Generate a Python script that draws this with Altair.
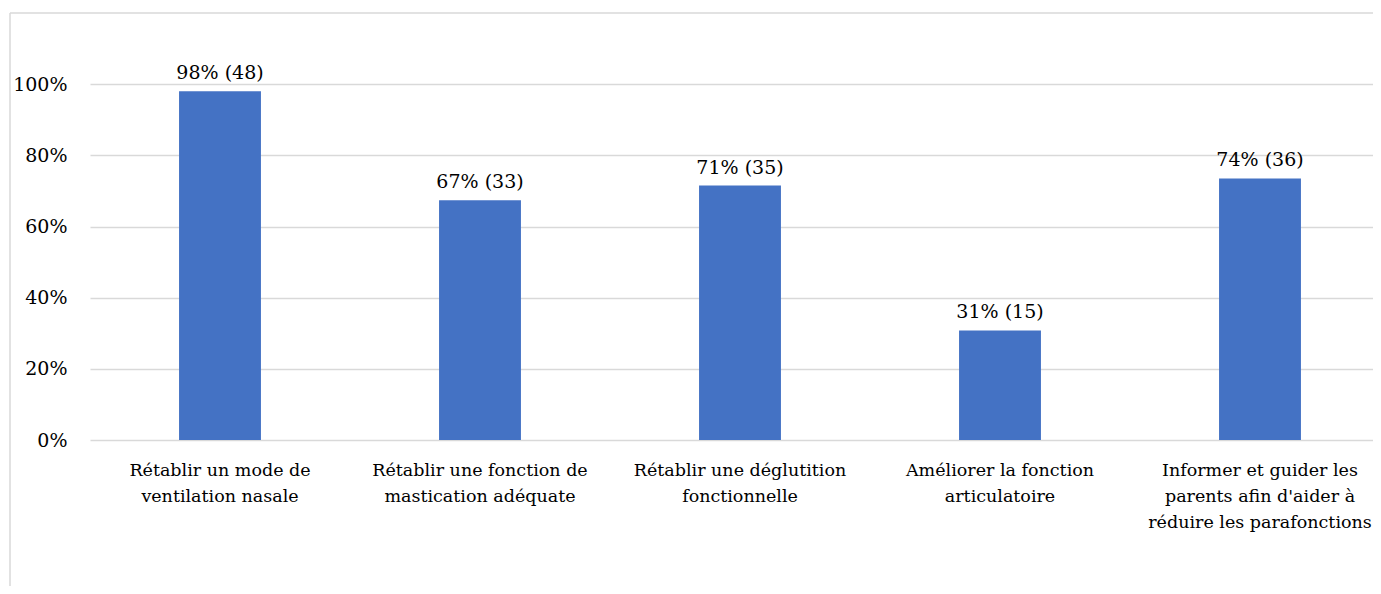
import altair as alt
import pandas as pd

categories = [
    "Rétablir un mode de\nventilation nasale",
    "Rétablir une fonction de\nmastication adéquate",
    "Rétablir une déglutition\nfonctionnelle",
    "Améliorer la fonction\narticulatoire",
    "Informer et guider les\nparents afin d'aider à\nréduire les parafonctions",
]
shares = [0.98, 0.674, 0.715, 0.308, 0.735]
labels = ["98% (48)", "67% (33)", "71% (35)", "31% (15)", "74% (36)"]
y_ticks = [0, 0.2, 0.4, 0.6, 0.8, 1.0]

df = pd.DataFrame({"cat": categories, "share": shares, "label": labels})

FONT = "DejaVu Serif"
GRID = "#d9d9d9"
FS = 19

x_enc = alt.X(
    "cat:N",
    sort=None,
    title=None,
    scale=alt.Scale(range=[0, 1300], paddingInner=0.685, paddingOuter=0.3425),
    axis=alt.Axis(
        labelAngle=0,
        labelExpr="split(datum.value, '\\n')",
        labelFont=FONT,
        labelFontSize=17.5,
        labelLineHeight=26,
        labelColor="#000000",
        labelPadding=21,
        labelBaseline="top",
        labelLimit=400,
        domain=False,
        ticks=False,
        grid=False,
    ),
)
y_enc = alt.Y(
    "share:Q",
    title=None,
    scale=alt.Scale(domain=[0, 1.2], nice=False),
    axis=alt.Axis(
        values=y_ticks,
        format=".0%",
        labelFont=FONT,
        labelFontSize=FS,
        labelColor="#000000",
        labelPadding=23,
        domain=False,
        ticks=False,
        grid=True,
        gridColor=GRID,
        gridWidth=1.5,
    ),
)

bars = alt.Chart(df).mark_bar(color="#4472C4").encode(x=x_enc, y=y_enc)

text = alt.Chart(df).mark_text(
    font=FONT, fontSize=FS, color="#000000", baseline="alphabetic", dy=-12
).encode(x=alt.X("cat:N", sort=None), y="share:Q", text="label:N")

frame_data = alt.Data(values=[{"a": 1}])
frame_top = alt.Chart(frame_data).mark_rule(color=GRID, strokeWidth=1.5).encode(
    x=alt.value(-80), x2=alt.value(1320), y=alt.value(0)
)
frame_left = alt.Chart(frame_data).mark_rule(color=GRID, strokeWidth=1.5).encode(
    x=alt.value(-80), y=alt.value(0), y2=alt.value(580)
)

chart = (
    alt.layer(frame_top, frame_left, bars, text)
    .properties(
        width=1283,
        height=427,
        autosize=alt.AutoSizeParams(type="none"),
        padding={"left": 82, "top": 5, "right": 0, "bottom": 146},
        background="white",
    )
    .configure(font=FONT)
    .configure_view(stroke=None)
)

chart.save("out.html", embed_options={"renderer": "svg", "actions": False})
